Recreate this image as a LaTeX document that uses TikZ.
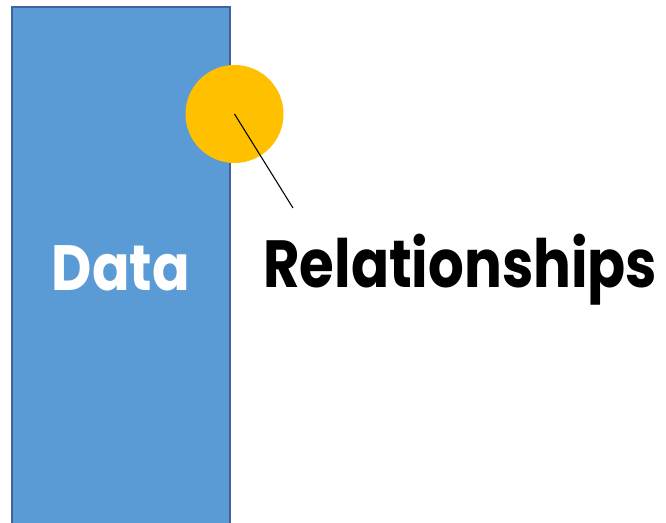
\documentclass[tikz,border=0pt]{standalone}
\usepackage{xcolor}
\usepackage{graphicx}
\usepackage{fontspec}
\usepackage{tikz}
\usetikzlibrary{positioning}
\newfontfamily\gothic{Poppins}
\newcommand\squeeze[2]{\resizebox{#1}{\height}{#2}}
\definecolor{datafill}{HTML}{5B9BD5}
\definecolor{dataline}{HTML}{41629C}
\definecolor{relfill}{HTML}{FFC000}

\begin{document}
\begin{tikzpicture}[x=0.75pt,y=-0.75pt]
        \tikzstyle{every node}=[font=\gothic\bfseries]
        \useasboundingbox (0,0) rectangle (666,523);
        \node[draw=dataline,line width=1.5pt,fill=datafill,minimum width=163.5pt,minimum height=392.25pt,inner sep=0pt,text=white,font=\gothic\bfseries\fontsize{48}{48}\selectfont] (Dt) at (121,268.5) {\squeeze{103.5pt}{Data}};
        \node[circle,fill=relfill,minimum size=73.5pt,inner sep=0pt] (Rl) at (234.5,114) {};
        \node[anchor=base west,inner sep=0pt,font=\gothic\bfseries\fontsize{50}{50}\selectfont] (Rn) at (263,287) {\squeeze{295.5pt}{Relationships}};
        \coordinate (Tp) at (293,208);
        \draw[line width=0.8pt] (Rl.center) -- (Tp);
    \end{tikzpicture}
\end{document}
